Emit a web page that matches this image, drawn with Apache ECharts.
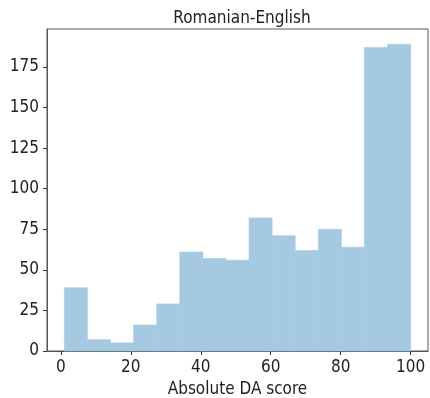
<!DOCTYPE html>
<html>
<head>
<meta charset="utf-8">
<script src="https://cdn.jsdelivr.net/npm/echarts@6/dist/echarts.min.js"></script>
<style>
  html, body { margin: 0; padding: 0; background: #fff; }
  #chart { width: 430px; height: 398px; }
</style>
</head>
<body>
<div id="chart"></div>
<script>
// Histogram of absolute DA scores (15 equal-width bins from 1 to 100)
const binStart = 1;
const binEnd = 100;
const binCounts = [39, 7, 5, 16, 29, 61, 57, 56, 82, 71, 62, 75, 64, 187, 189];
const xTicks = [0, 20, 40, 60, 80, 100];
const yTicks = [0, 25, 50, 75, 100, 125, 150, 175];
const titleText = 'Romanian-English';
const xAxisName = 'Absolute DA score';

const binWidth = (binEnd - binStart) / binCounts.length;
const bins = binCounts.map((c, i) => [binStart + i * binWidth, binStart + (i + 1) * binWidth, c]);

const pad = (binEnd - binStart) * 0.05;
const yMax = Math.max(...binCounts) * 1.05;

const BAR_COLOR = '#a5c9e1';
const FONT = '"DejaVu Sans Condensed", "DejaVu Sans", sans-serif';
const chart = echarts.init(document.getElementById('chart'));
chart.setOption({
  animation: false,
  title: {
    text: titleText,
    left: 237, top: 5, textAlign: 'center',
    textStyle: { fontFamily: FONT, fontSize: 17, fontWeight: 'normal', color: '#222' }
  },
  grid: {
    left: 47, top: 29, right: 2, bottom: 47,
    containLabel: false, outerBoundsMode: 'none',
    show: true, borderColor: '#555', borderWidth: 1, backgroundColor: '#fff'
  },
  xAxis: {
    type: 'value', min: binStart - pad, max: binEnd + pad,
    name: xAxisName, nameLocation: 'middle', nameGap: 30,
    nameTextStyle: { fontFamily: FONT, fontSize: 17, color: '#222' },
    splitLine: { show: false },
    axisLine: { show: true, onZero: false, lineStyle: { color: '#555' } },
    axisTick: { show: true, length: 4, customValues: xTicks, lineStyle: { color: '#333' } },
    axisLabel: { customValues: xTicks, fontFamily: FONT, fontSize: 17, color: '#222', margin: 8 }
  },
  yAxis: {
    type: 'value', min: 0, max: yMax,
    splitLine: { show: false },
    axisLine: { show: true, onZero: false, lineStyle: { color: '#555' } },
    axisTick: { show: true, length: 4, customValues: yTicks, lineStyle: { color: '#333' } },
    axisLabel: { customValues: yTicks, fontFamily: FONT, fontSize: 17, color: '#222', margin: 8 }
  },
  series: [{
    type: 'custom',
    data: bins,
    encode: { x: [0, 1], y: 2 },
    renderItem: function (params, api) {
      const p0 = api.coord([api.value(0), 0]);
      const p1 = api.coord([api.value(1), api.value(2)]);
      return {
        type: 'rect',
        shape: { x: p0[0], y: p1[1], width: p1[0] - p0[0], height: p0[1] - p1[1] },
        style: { fill: BAR_COLOR, stroke: BAR_COLOR, lineWidth: 0.6 }
      };
    }
  }]
});
</script>
</body>
</html>
